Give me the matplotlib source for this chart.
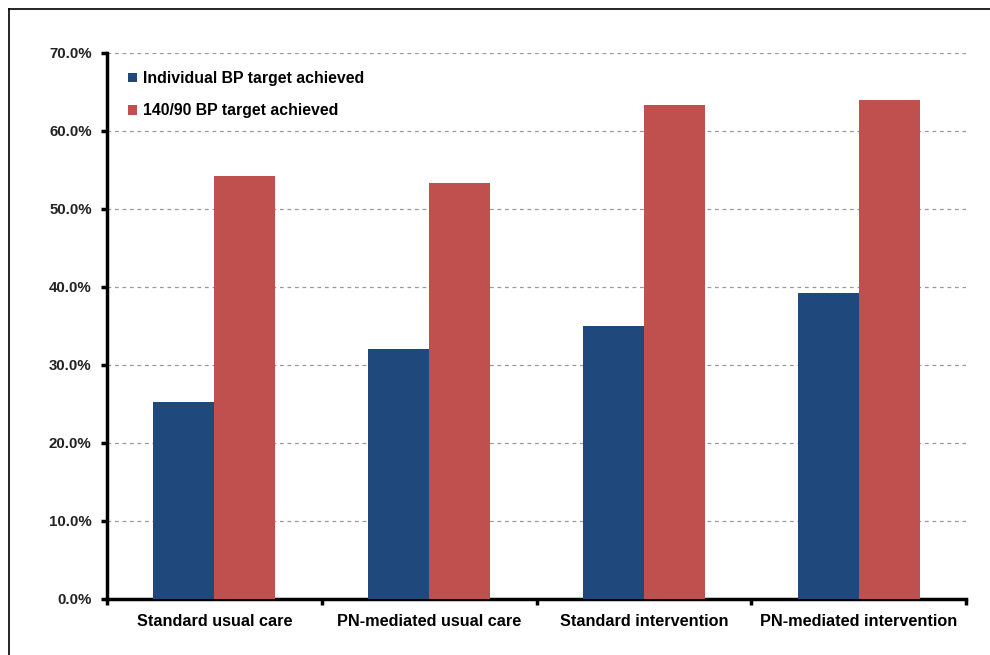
import numpy as np
import matplotlib.pyplot as plt
from matplotlib.lines import Line2D
from matplotlib.ticker import PercentFormatter

categories = ["Standard usual care", "PN-mediated usual care",
              "Standard intervention", "PN-mediated intervention"]
individual = [25.3, 32.1, 35.0, 39.2]
bp_140_90 = [54.2, 53.3, 63.3, 64.0]
series_names = ["Individual BP target achieved", "140/90 BP target achieved"]

blue = "#1f497d"
red = "#c0504d"

plt.rcParams['font.family'] = ['Liberation Sans', 'DejaVu Sans']
plt.rcParams['font.weight'] = 'bold'

fig = plt.figure(figsize=(9.9, 6.55), dpi=100)
ax = fig.add_axes([107/990, 1-599/655, (966-107)/990, (599-53)/655])

x = np.arange(len(categories))
w = 0.284
ax.bar(x - w/2, individual, w, color=blue, label=series_names[0], zorder=3)
ax.bar(x + w/2, bp_140_90, w, color=red, label=series_names[1], zorder=3)

ax.set_xlim(-0.5, len(categories) - 0.5)
ax.set_ylim(0, 70)
ax.set_yticks(np.arange(0, 71, 10))
ax.yaxis.set_major_formatter(PercentFormatter(decimals=1))
ax.set_xticks(np.arange(-0.5, len(categories)), minor=False)
ax.set_xticklabels([])
ax.set_xticks(x, minor=True)
ax.set_xticklabels(categories, minor=True, fontsize=11.7, fontweight='bold')
ax.tick_params(axis='x', which='minor', length=0, pad=11)
ax.tick_params(axis='x', which='major', length=4, width=2.5, direction='out')
ax.tick_params(axis='y', length=4, width=2.5, labelsize=10.8, labelcolor='#222222', pad=7)

ax.grid(axis='y', linestyle=(0, (3, 3)), color='#999999', linewidth=0.9, zorder=0)
for s in ['top', 'right']:
    ax.spines[s].set_visible(False)
for s in ['left', 'bottom']:
    ax.spines[s].set_linewidth(2.5)

ax.legend(loc='upper left', bbox_to_anchor=(0.008, 0.993), frameon=False,
          fontsize=11.4, handlelength=0.55, handleheight=0.55, handletextpad=0.4,
          labelspacing=1.1)

# outer frame lines (top and left)
fig.add_artist(Line2D([9/990, 1.0], [1-9/655, 1-9/655], color='black', linewidth=1.2))
fig.add_artist(Line2D([9/990, 9/990], [0.0, 1-9/655], color='black', linewidth=1.2))

fig.savefig("out.png", dpi=100)
